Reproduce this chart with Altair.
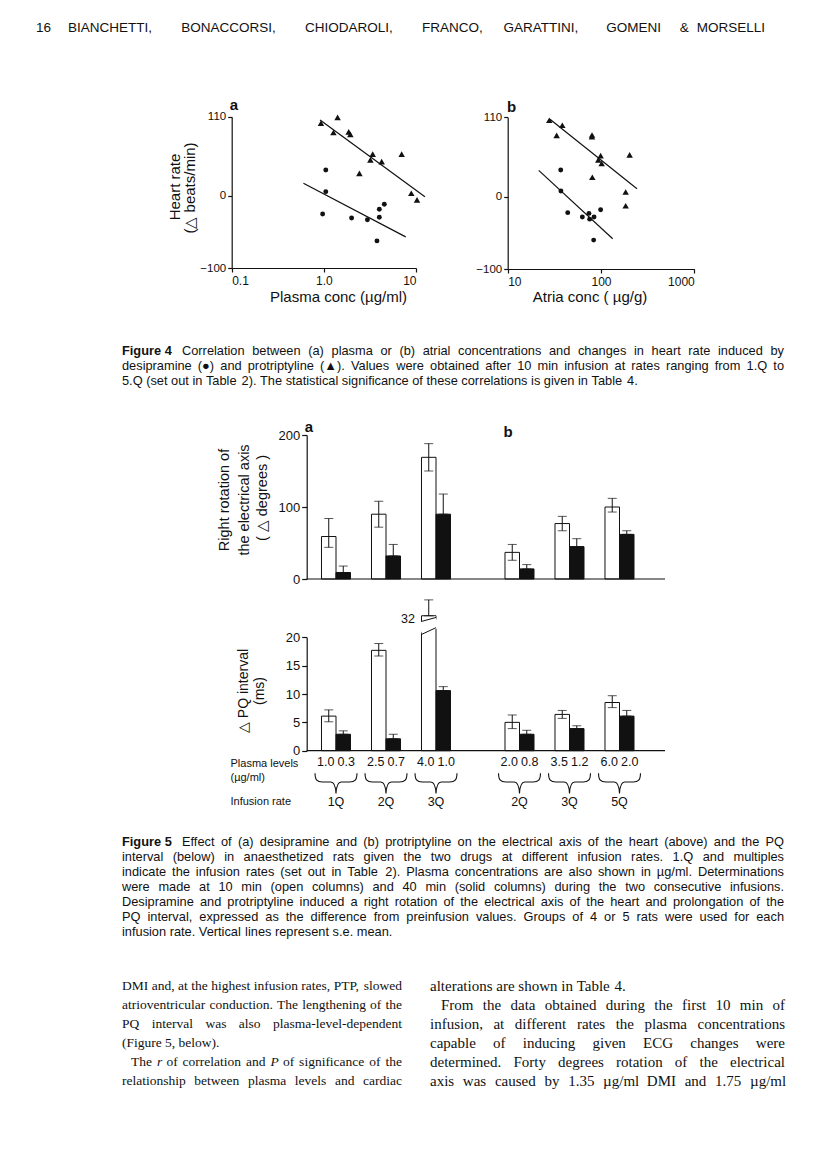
import altair as alt
import pandas as pd

W, H = 800, 1141
INK = "#111111"
SANS = "Liberation Sans"
SERIF = "Liberation Serif"

# ------------------------------------------------------------------ text
page_no = "16"
header_words = ["BIANCHETTI,", "BONACCORSI,", "CHIODAROLI,", "FRANCO,",
                "GARATTINI,", "GOMENI", "&", "MORSELLI"]

fig4_label = "Figure 4"
fig4_lines = [
    "Correlation between (a) plasma or (b) atrial concentrations and changes in heart rate induced by",
    "desipramine (●) and protriptyline (▲). Values were obtained after 10 min infusion at rates ranging from 1.Q to",
    "5.Q (set out in Table 2). The statistical significance of these correlations is given in Table 4.",
]
fig5_label = "Figure 5"
fig5_lines = [
    "Effect of (a) desipramine and (b) protriptyline on the electrical axis of the heart (above) and the PQ",
    "interval (below) in anaesthetized rats given the two drugs at different infusion rates. 1.Q and multiples",
    "indicate the infusion rates (set out in Table 2). Plasma concentrations are also shown in µg/ml. Determinations",
    "were made at 10 min (open columns) and 40 min (solid columns) during the two consecutive infusions.",
    "Desipramine and protriptyline induced a right rotation of the electrical axis of the heart and prolongation of the",
    "PQ interval, expressed as the difference from preinfusion values. Groups of 4 or 5 rats were used for each",
    "infusion rate. Vertical lines represent s.e. mean.",
]
body_left = [
    "DMI and, at the highest infusion rates, PTP, slowed",
    "atrioventricular conduction. The lengthening of the",
    "PQ interval was also plasma-level-dependent",
    "(Figure 5, below).",
    "The r of correlation and P of significance of the",
    "relationship between plasma levels and cardiac",
]
body_right = [
    "alterations are shown in Table 4.",
    "From the data obtained during the first 10 min of",
    "infusion, at different rates the plasma concentrations",
    "capable of inducing given ECG changes were",
    "determined. Forty degrees rotation of the electrical",
    "axis was caused by 1.35 µg/ml DMI and 1.75 µg/ml",
]

# ------------------------------------------------------------------ figure 4 data
f4a_dmi_conc = [1.05, 1.05, 0.97, 2.0, 2.97, 4.0, 4.0, 4.53, 3.77]
f4a_dmi_hr = [36, 6, -25, -30.5, -33, -29.6, -18.5, -11.6, -62.4]
f4a_ptp_conc = [0.93, 1.41, 1.27, 1.86, 1.94, 3.39, 3.20, 4.24, 2.43, 6.99, 8.89, 10.25]
f4a_ptp_hr = [101, 109, 88, 89, 85.5, 58, 50, 47.6, 31.4, 58, 3.7, -5.5]
f4a_dmi_fit_conc = [0.60, 7.73]
f4a_dmi_fit_hr = [17.6, -56.8]
f4a_ptp_fit_conc = [0.91, 12.5]
f4a_ptp_fit_hr = [105.4, -1.0]

f4b_dmi_conc = [37.0, 37.2, 44.0, 63.1, 74.3, 75.6, 84.2, 99.1, 83.4]
f4b_dmi_hr = [37, 8, -22, -28, -23, -31, -28, -18, -60]
f4b_ptp_conc = [27.9, 38.5, 33.5, 80.1, 80.0, 99.1, 93.6, 101.6, 80.7, 202.8, 183.8, 183.8]
f4b_ptp_hr = [106, 99, 85, 85.5, 83, 57, 51, 46, 27, 58, 6.5, -12.5]
f4b_dmi_fit_conc = [21.5, 133.4]
f4b_dmi_fit_hr = [36.5, -58.2]
f4b_ptp_fit_conc = [28.4, 243.0]
f4b_ptp_fit_hr = [107.2, 11.1]

hr_ticks = [-100, 0, 110]
f4a_ticks = [0.1, 1, 10]
f4a_tick_labels = ["0.1", "1.0", "10"]
f4b_ticks = [10, 100, 1000]
f4b_tick_labels = ["10", "100", "1000"]

# ------------------------------------------------------------------ figure 5 data
groups_a = ["1Q", "2Q", "3Q"]
groups_b = ["2Q", "3Q", "5Q"]
kinds = ["open", "solid"]

axis_open_a = [59, 90, 169]
axis_open_hi_a = [84, 108, 188]
axis_open_lo_a = [44, 72, 150]
axis_solid_a = [9, 32, 90]
axis_solid_hi_a = [18, 48, 118]
axis_open_b = [37, 77, 100]
axis_open_hi_b = [48, 87, 112]
axis_open_lo_b = [26, 67, 93]
axis_solid_b = [14, 45, 62]
axis_solid_hi_b = [20, 56, 67]

pq_open_a = [6.1, 17.7, 32.0]
pq_open_hi_a = [7.2, 18.9, 34.8]
pq_open_lo_a = [5.1, 16.7, 32.0]
pq_solid_a = [2.9, 2.1, 10.6]
pq_solid_hi_a = [3.5, 2.9, 11.3]
pq_open_b = [5.0, 6.4, 8.5]
pq_open_hi_b = [6.3, 7.1, 9.7]
pq_open_lo_b = [3.9, 5.7, 7.6]
pq_solid_b = [2.9, 3.9, 6.1]
pq_solid_hi_b = [3.6, 4.4, 7.1]

plasma_open_a = [1.0, 2.5, 4.0]
plasma_solid_a = [0.3, 0.7, 1.0]
plasma_open_b = [2.0, 3.5, 6.0]
plasma_solid_b = [0.8, 1.2, 2.0]

axis_ticks = [0, 100, 200]
pq_ticks = [0, 5, 10, 15, 20]

# ------------------------------------------------------------------ layout constants (chart px)
A4_X, A4_Y = [223.7, 408.0], [260.0, 108.7]
B4_X, B4_Y = [499.7, 686.3], [261.0, 109.3]
F5_AXIS_X = 298.7
F5_X_END = 657.0
TOP_Y = [571.0, 427.0]
PQ_Y = [742.7, 629.3]
BAND_A = [303.0, 453.0]
BAND_B = [486.5, 636.5]
SUB_PAD = 0.724
PQ_MAX = 20
BREAK_TOP = 23.8

# ------------------------------------------------------------------ font metrics (Arial / Times metric compatible)
HELV = dict(zip("abcdefghijklmnopqrstuvwxyz",
                [556, 556, 500, 556, 556, 278, 556, 556, 222, 222, 500, 222, 833, 556, 556, 556, 556, 333, 500, 278,
                 556, 500, 722, 500, 500, 500]))
HELV.update(zip("ABCDEFGHIJKLMNOPQRSTUVWXYZ",
                [667, 667, 722, 722, 667, 611, 778, 722, 278, 500, 667, 556, 833, 722, 778, 667, 778, 722, 667, 611,
                 722, 667, 944, 667, 667, 611]))
HELV.update({c: 556 for c in "0123456789"})
HELV.update({" ": 278, ",": 278, ".": 278, "(": 333, ")": 333, "-": 333, "/": 278, ":": 278, ";": 278,
             "&": 667, "µ": 576, "●": 604, "▲": 990})
TIMES = dict(zip("abcdefghijklmnopqrstuvwxyz",
                 [444, 500, 444, 500, 444, 333, 500, 500, 278, 278, 500, 278, 778, 500, 500, 500, 500, 333, 389, 278,
                  500, 500, 722, 500, 500, 444]))
TIMES.update(zip("ABCDEFGHIJKLMNOPQRSTUVWXYZ",
                 [722, 667, 667, 722, 611, 556, 722, 722, 333, 389, 722, 611, 889, 722, 722, 556, 722, 667, 556, 611,
                  722, 722, 944, 722, 722, 611]))
TIMES.update({c: 500 for c in "0123456789"})
TIMES.update({" ": 250, ",": 250, ".": 250, "(": 333, ")": 333, "-": 333, "/": 278, "µ": 500})


def wlen(word, size, table):
    return sum(table.get(c, 556) for c in word) * size / 1000.0


texts = {}


def add(key, t, x, y, s, a=0):
    texts.setdefault(key, []).append(dict(t=t, x=x, y=y, s=s, a=a))


def set_line(line, x0, x1, y, size, table, font, justify, italic=()):
    words = line.split(" ")
    widths = [wlen(w, size, table) for w in words]
    space = table[" "] * size / 1000.0
    gap = space
    if justify and len(words) > 1:
        gap = max((x1 - x0 - sum(widths)) / (len(words) - 1), 0.35 * space)
    x = x0
    for i, (w, wd) in enumerate(zip(words, widths)):
        style = "italic" if i in italic else "normal"
        add((font, "normal", style, "left"), w, x, y, size)
        x += wd + gap


# header (tracked capitals)
HS = 13.5
add((SANS, "normal", "normal", "left"), page_no, 28, 20, HS)
hx0, hx1 = 60.0, 774.0
nat = sum(wlen(w, HS, HELV) for w in header_words) + (len(header_words) - 1) * HELV[" "] * HS / 1000
nchar = sum(len(w) for w in header_words) + len(header_words) - 1
track = (hx1 - hx0 - nat) / nchar
hx = hx0
for w in header_words:
    add((SANS, "normal", "normal", "left"), w, hx, 20, HS)
    hx += wlen(w, HS, HELV) + len(w) * track + HELV[" "] * HS / 1000 + track

# captions
CS = 12.8
CX0, CX1, CIND = 114.0, 776.0, 174.0
for lab, lines, y0 in [(fig4_label, fig4_lines, 343.0), (fig5_label, fig5_lines, 834.0)]:
    add((SANS, "bold", "normal", "left"), lab, CX0, y0, CS)
    for i, ln in enumerate(lines):
        x0 = CIND if i == 0 else CX0
        set_line(ln, x0, CX1, y0 + 15 * i, CS, HELV, SANS, justify=(i < len(lines) - 1))

# body text
BSL, BSR = 13.5, 15.0
for i, ln in enumerate(body_left):
    ind = 9 if i == 4 else 0
    ital = (1, 5) if i == 4 else ()
    set_line(ln, 114 + ind, 394, 978 + 19 * i, BSL, TIMES, SERIF, justify=(i != 3), italic=ital)
for i, ln in enumerate(body_right):
    ind = 11 if i == 1 else 0
    set_line(ln, 422 + ind, 777, 978 + 19 * i, BSR, TIMES, SERIF, justify=(i != 0))

# figure labels / titles
add((SANS, "bold", "normal", "center"), "a", 226, 97, 15)
add((SANS, "bold", "normal", "center"), "b", 503.7, 98.7, 15)
add((SANS, "normal", "normal", "center"), "Heart rate", 167, 179, 15, 270)
add((SANS, "normal", "normal", "center"), "(△ beats/min)", 182, 180, 15, 270)
add((SANS, "normal", "normal", "center"), "Plasma conc (µg/ml)", 330.5, 289, 15)
add((SANS, "normal", "normal", "center"), "Atria conc ( µg/g)", 582, 289, 15)
add((SANS, "bold", "normal", "center"), "a", 301, 419, 15)
add((SANS, "bold", "normal", "center"), "b", 500, 424, 15)
add((SANS, "normal", "normal", "center"), "Right rotation of", 217, 492, 14.5, 270)
add((SANS, "normal", "normal", "center"), "the electrical axis", 237, 492, 14.5, 270)
add((SANS, "normal", "normal", "center"), "( △ degrees )", 255, 490, 14.5, 270)
add((SANS, "normal", "normal", "center"), "△ PQ interval", 236, 683, 14, 270)
add((SANS, "normal", "normal", "center"), "(ms)", 252, 683, 14, 270)
add((SANS, "normal", "normal", "right"), "32", 407, 611, 12.5)
add((SANS, "normal", "normal", "left"), "Plasma levels", 222.5, 756, 11)
add((SANS, "normal", "normal", "left"), "(µg/ml)", 222.5, 770, 11)
add((SANS, "normal", "normal", "left"), "Infusion rate", 222.5, 794, 11)

# ------------------------------------------------------------------ helpers
AX = dict(grid=False, title=None, domainColor=INK, tickColor=INK, labelColor=INK, labelFont=SANS,
          domainWidth=1.2, tickWidth=1.2, tickSize=4)


def expr_labels(vals, labs):
    e = ""
    for v, l in zip(vals, labs):
        e += f"abs(datum.value - {v}) < {v * 1e-6 + 1e-9} ? '{l}' : "
    return e + "''"


def scatter_panel(dmi_c, dmi_h, ptp_c, ptp_h, fits, xdom, xr, yr, ticks, tlabels):
    pts = pd.DataFrame({"conc": dmi_c + ptp_c, "hr": dmi_h + ptp_h,
                        "drug": ["desipramine"] * len(dmi_c) + ["protriptyline"] * len(ptp_c)})
    fit = pd.DataFrame({"conc": fits[0] + fits[2], "hr": fits[1] + fits[3],
                        "drug": ["desipramine"] * 2 + ["protriptyline"] * 2})
    xs = alt.Scale(type="log", domain=xdom, range=xr, nice=False)
    ys = alt.Scale(domain=[-100, 110], range=yr, nice=False, zero=False)
    xax = alt.Axis(orient="bottom", offset=yr[0] - H, values=ticks, labelExpr=expr_labels(ticks, tlabels),
                   labelFontSize=12, labelPadding=3, **AX)
    yax = alt.Axis(orient="left", offset=-xr[0], values=hr_ticks, labelFontSize=11.5, labelPadding=2, **AX)
    dots = alt.Chart(pts).transform_filter(alt.datum.drug == "desipramine").mark_point(
        shape="circle", filled=True, size=24, color=INK, opacity=1).encode(
        x=alt.X("conc:Q", scale=xs, axis=xax), y=alt.Y("hr:Q", scale=ys, axis=yax))
    tris = alt.Chart(pts).transform_filter(alt.datum.drug == "protriptyline").mark_point(
        shape="triangle-up", filled=True, size=42, color=INK, opacity=1).encode(
        x=alt.X("conc:Q", scale=xs, axis=None), y=alt.Y("hr:Q", scale=ys, axis=None))
    lines = alt.Chart(fit).mark_line(color=INK, strokeWidth=1.2).encode(
        x=alt.X("conc:Q", scale=xs, axis=None), y=alt.Y("hr:Q", scale=ys, axis=None), detail="drug:N")
    return [dots, tris, lines]


def f5_rows(groups, o, ohi, olo, s, shi, pl_o, pl_s):
    rows = []
    for i, g in enumerate(groups):
        rows.append(dict(group=g, kind="open", val=o[i], hi=ohi[i], lo=olo[i], plasma=pl_o[i]))
        rows.append(dict(group=g, kind="solid", val=s[i], hi=shi[i], lo=s[i], plasma=pl_s[i]))
    return pd.DataFrame(rows)


def bar_panel(df, groups, band, ydom, yr, yaxis):
    xs = alt.X("group:N", scale=alt.Scale(domain=groups, range=band, paddingInner=0, paddingOuter=0), axis=None)
    step = (band[1] - band[0]) / len(groups)
    xo = alt.XOffset("kind:N", scale=alt.Scale(domain=kinds, range=[0, step], paddingInner=0,
                                               paddingOuter=SUB_PAD))
    ys = alt.Scale(domain=ydom, range=yr, nice=False)
    base = alt.Chart(df).encode(x=xs, xOffset=xo)
    bars = base.mark_bar(stroke=INK, strokeWidth=1).encode(
        y=alt.Y("dval:Q", scale=ys, axis=yaxis),
        color=alt.Color("kind:N", scale=alt.Scale(domain=kinds, range=["white", INK]), legend=None))
    err = base.mark_rule(color=INK, strokeWidth=1).encode(
        y=alt.Y("dlo:Q", scale=ys, axis=None), y2="dhi:Q")
    cap_hi = base.mark_tick(color=INK, size=9, thickness=1).encode(y=alt.Y("dhi:Q", scale=ys, axis=None))
    cap_lo = base.mark_tick(color=INK, size=9, thickness=1).encode(y=alt.Y("dlo:Q", scale=ys, axis=None))
    return [bars, err, cap_hi, cap_lo]


def display_cols(df, limit):
    # a value beyond the axis is drawn as a broken bar ending at BREAK_TOP
    over = df["val"] > limit
    df["dval"] = df["val"].where(~over, BREAK_TOP)
    df["dhi"] = df["hi"].where(~over, BREAK_TOP + (df["hi"] - df["val"]))
    df["dlo"] = df["lo"].where(~over, BREAK_TOP)
    return df


layers = []

# figure 4
layers += scatter_panel(f4a_dmi_conc, f4a_dmi_hr, f4a_ptp_conc, f4a_ptp_hr,
                        (f4a_dmi_fit_conc, f4a_dmi_fit_hr, f4a_ptp_fit_conc, f4a_ptp_fit_hr),
                        [0.1, 10], A4_X, A4_Y, f4a_ticks, f4a_tick_labels)
layers += scatter_panel(f4b_dmi_conc, f4b_dmi_hr, f4b_ptp_conc, f4b_ptp_hr,
                        (f4b_dmi_fit_conc, f4b_dmi_fit_hr, f4b_ptp_fit_conc, f4b_ptp_fit_hr),
                        [10, 1000], B4_X, B4_Y, f4b_ticks, f4b_tick_labels)

# figure 5 data frames
top_a = display_cols(f5_rows(groups_a, axis_open_a, axis_open_hi_a, axis_open_lo_a, axis_solid_a,
                             axis_solid_hi_a, plasma_open_a, plasma_solid_a), 1e9)
top_b = display_cols(f5_rows(groups_b, axis_open_b, axis_open_hi_b, axis_open_lo_b, axis_solid_b,
                             axis_solid_hi_b, plasma_open_b, plasma_solid_b), 1e9)
pq_a = display_cols(f5_rows(groups_a, pq_open_a, pq_open_hi_a, pq_open_lo_a, pq_solid_a,
                            pq_solid_hi_a, plasma_open_a, plasma_solid_a), PQ_MAX)
pq_b = display_cols(f5_rows(groups_b, pq_open_b, pq_open_hi_b, pq_open_lo_b, pq_solid_b,
                            pq_solid_hi_b, plasma_open_b, plasma_solid_b), PQ_MAX)

top_axis = alt.Axis(orient="left", offset=-F5_AXIS_X, values=axis_ticks, labelFontSize=13, labelPadding=2,
                    **{**AX, "tickSize": 5})
pq_axis = alt.Axis(orient="left", offset=-F5_AXIS_X, values=pq_ticks, labelFontSize=13, labelPadding=2,
                   **{**AX, "tickSize": 5})

layers += bar_panel(top_a, groups_a, BAND_A, [0, 200], TOP_Y, top_axis)
layers += bar_panel(top_b, groups_b, BAND_B, [0, 200], TOP_Y, None)
layers += bar_panel(pq_a, groups_a, BAND_A, [0, PQ_MAX], PQ_Y, pq_axis)
layers += bar_panel(pq_b, groups_b, BAND_B, [0, PQ_MAX], PQ_Y, None)

# baselines of figure 5 (value 0 on each y scale)
for dom, yr in [([0, 200], TOP_Y), ([0, PQ_MAX], PQ_Y)]:
    layers.append(alt.Chart(pd.DataFrame({"v": [0]})).mark_rule(color=INK, strokeWidth=1.2).encode(
        y=alt.Y("v:Q", scale=alt.Scale(domain=dom, range=yr, nice=False), axis=None),
        x=alt.value(F5_X_END), x2=alt.value(F5_AXIS_X)))


# axis break on the 3Q desipramine open column
def yq(v):
    return PQ_Y[0] + (PQ_Y[1] - PQ_Y[0]) * v / PQ_MAX


sub = (BAND_A[1] - BAND_A[0]) / 3 / (2 + 2 * SUB_PAD)
bx0 = BAND_A[0] + 2 * (BAND_A[1] - BAND_A[0]) / 3 + SUB_PAD * sub
bx1 = bx0 + sub
one = pd.DataFrame({"k": [0]})
layers.append(alt.Chart(one).mark_rule(color="white", strokeWidth=12, strokeCap="butt").encode(
    x=alt.value(bx0 - 1.5), y=alt.value(yq(21.55)), x2=alt.value(bx1 + 1.5), y2=alt.value(yq(22.7))))
for lo, hi in [(20.5, 21.7), (22.8, 23.5)]:
    layers.append(alt.Chart(one).mark_rule(color=INK, strokeWidth=1).encode(
        x=alt.value(bx0), y=alt.value(yq(lo)), x2=alt.value(bx1), y2=alt.value(yq(hi))))

# plasma levels, braces and infusion rates under figure 5
BRACE = ("M -1 -0.48 C -0.99 -0.15 -0.9 -0.06 -0.65 -0.06 L -0.25 -0.06 C -0.08 -0.06 -0.02 0.1 0 0.48 "
         "C 0.02 0.1 0.08 -0.06 0.25 -0.06 L 0.65 -0.06 C 0.9 -0.06 0.99 -0.15 1 -0.48")
for df, groups, band in [(top_a, groups_a, BAND_A), (top_b, groups_b, BAND_B)]:
    step = (band[1] - band[0]) / 3
    xs = alt.X("group:N", scale=alt.Scale(domain=groups, range=band, paddingInner=0, paddingOuter=0), axis=None)
    xo = alt.XOffset("kind:N", scale=alt.Scale(domain=kinds, range=[0, step], paddingInner=0,
                                               paddingOuter=SUB_PAD))
    layers.append(alt.Chart(df).mark_text(font=SANS, fontSize=12.5, color=INK, baseline="middle").encode(
        x=xs, xOffset=xo, y=alt.value(754), text=alt.Text("plasma:Q", format=".1f")))
    gdf = pd.DataFrame({"group": groups})
    layers.append(alt.Chart(gdf).mark_point(shape=BRACE, size=1764, filled=False, stroke=INK, strokeWidth=1.1,
                                            opacity=1).encode(x=xs, y=alt.value(775.3)))
    layers.append(alt.Chart(gdf).mark_text(font=SANS, fontSize=12.5, color=INK, baseline="middle").encode(
        x=xs, y=alt.value(793.7), text="group:N"))

# all free text
for (font, weight, style, align), items in texts.items():
    layers.append(alt.Chart(pd.DataFrame(items)).mark_text(
        font=font, fontWeight=weight, fontStyle=style, align=align, baseline="middle", color=INK).encode(
        text="t:N",
        x=alt.X("x:Q", scale=None, axis=None),
        y=alt.Y("y:Q", scale=None, axis=None),
        size=alt.Size("s:Q", scale=None, legend=None),
        angle=alt.Angle("a:Q", scale=None, legend=None)))

chart = alt.layer(*layers).resolve_scale(
    x="independent", y="independent", xOffset="independent"
).properties(
    width=W, height=H, padding=0, autosize=alt.AutoSizeParams(type="none"),
    background="white"
).configure_view(stroke=None)

chart.save("out.html", embed_options={"renderer": "svg", "actions": False})
